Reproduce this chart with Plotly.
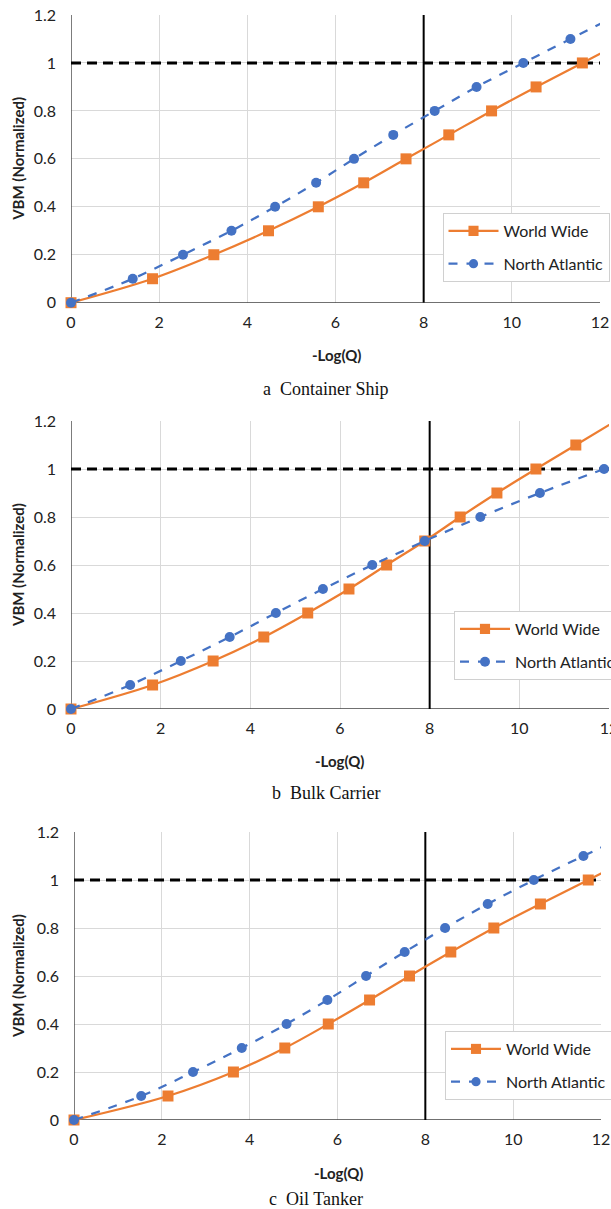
import plotly.graph_objects as go

# ---------------- data ----------------
# Panel a: Container Ship
a_ww_x = [0, 1.85, 3.24, 4.48, 5.61, 6.64, 7.60, 8.57, 9.54, 10.55, 11.60, 12.65]
a_ww_y = [0, 0.1, 0.2, 0.3, 0.4, 0.5, 0.6, 0.7, 0.8, 0.9, 1.0, 1.1]
a_na_x = [0, 1.40, 2.54, 3.64, 4.63, 5.56, 6.42, 7.31, 8.25, 9.20, 10.26, 11.33, 12.40]
a_na_y = [0, 0.1, 0.2, 0.3, 0.4, 0.5, 0.6, 0.7, 0.8, 0.9, 1.0, 1.1, 1.2]
# Panel b: Bulk Carrier
b_ww_x = [0, 1.82, 3.17, 4.30, 5.28, 6.20, 7.04, 7.89, 8.68, 9.50, 10.37, 11.26, 12.15]
b_ww_y = [0, 0.1, 0.2, 0.3, 0.4, 0.5, 0.6, 0.7, 0.8, 0.9, 1.0, 1.1, 1.2]
b_na_x = [0, 1.32, 2.45, 3.54, 4.57, 5.62, 6.72, 7.89, 9.13, 10.46, 11.89]
b_na_y = [0, 0.1, 0.2, 0.3, 0.4, 0.5, 0.6, 0.7, 0.8, 0.9, 1.0]
# Panel c: Oil Tanker
c_ww_x = [0, 2.14, 3.63, 4.80, 5.79, 6.73, 7.64, 8.58, 9.56, 10.62, 11.71, 12.80]
c_ww_y = [0, 0.1, 0.2, 0.3, 0.4, 0.5, 0.6, 0.7, 0.8, 0.9, 1.0, 1.1]
c_na_x = [0, 1.53, 2.71, 3.82, 4.84, 5.77, 6.65, 7.53, 8.45, 9.42, 10.47, 11.60, 12.75]
c_na_y = [0, 0.1, 0.2, 0.3, 0.4, 0.5, 0.6, 0.7, 0.8, 0.9, 1.0, 1.1, 1.2]

series_names = ["World Wide", "North Atlantic"]
captions = ["a  Container Ship", "b  Bulk Carrier", "c  Oil Tanker"]
x_title = "-Log(Q)"
y_title = "VBM (Normalized)"
x_ticks = [0, 2, 4, 6, 8, 10, 12]
y_ticks = [0, 0.2, 0.4, 0.6, 0.8, 1.0, 1.2]
limit_x = 8
limit_y = 1.0

# ---------------- layout helpers ----------------
W, H = 611, 1209
def px(x):
    return x / W
def py(y):
    return 1 - y / H

ORANGE = "#ED7D31"
BLUE = "#4472C4"
FONT = "Lato"
XMAX = 12

panels = [
    dict(ww=(a_ww_x, a_ww_y), na=(a_na_x, a_na_y), left=71, right=600, top=15, bottom=302.7,
         leg=(442.5, 213), xt=(336, 354.7), cap=(325, 389)),
    dict(ww=(b_ww_x, b_ww_y), na=(b_na_x, b_na_y), left=71, right=609, top=421, bottom=709,
         leg=(454, 611), xt=(339, 761), cap=(326, 793)),
    dict(ww=(c_ww_x, c_ww_y), na=(c_na_x, c_na_y), left=74, right=601, top=832, bottom=1120,
         leg=(445, 1031), xt=(338, 1173), cap=(316, 1199)),
]

fig = go.Figure()
annotations = []
shapes = []
layout_axes = {}

for i, p in enumerate(panels):
    n = "" if i == 0 else str(i + 1)
    xa, ya = "x" + n, "y" + n
    leg = "legend" + n
    ww_x, ww_y = p["ww"]
    na_x, na_y = p["na"]
    fig.add_trace(go.Scatter(
        x=ww_x, y=ww_y, name=series_names[0], xaxis=xa, yaxis=ya, legend=leg,
        mode="lines+markers", line=dict(color=ORANGE, width=2.25, shape="spline"),
        marker=dict(symbol="square", color=ORANGE, opacity=1, line=dict(width=0),
                    size=[11 if v <= XMAX else 0 for v in ww_x]),
        cliponaxis=False, legendgroup="ww" + n))
    fig.add_trace(go.Scatter(
        x=na_x, y=na_y, name=series_names[1], xaxis=xa, yaxis=ya, legend=leg,
        mode="lines+markers", line=dict(color=BLUE, width=2.25, dash="dash", shape="spline"),
        marker=dict(symbol="circle", color=BLUE, opacity=1, line=dict(width=0),
                    size=[10 if v <= XMAX else 0 for v in na_x]),
        cliponaxis=False, legendgroup="na" + n))

    layout_axes["xaxis" + n] = dict(
        domain=[px(p["left"]), px(p["right"])], range=[0, XMAX], anchor=ya,
        tickvals=x_ticks, showgrid=True, gridcolor="#d9d9d9", gridwidth=1,
        zeroline=False, showline=False, ticks="", ticklabelstandoff=8, automargin=False,
        ticklabeloverflow="allow",
        tickfont=dict(family=FONT, size=16, color="#222"), fixedrange=True)
    layout_axes["yaxis" + n] = dict(
        domain=[py(p["bottom"]), py(p["top"])], range=[0, 1.2], anchor=xa,
        tickvals=y_ticks, ticktext=[("%g" % v) for v in y_ticks],
        showgrid=True, gridcolor="#d9d9d9", gridwidth=1, automargin=False,
        zeroline=False, showline=False, ticks="", ticklabelstandoff=14,
        tickfont=dict(family=FONT, size=16, color="#222"), fixedrange=True)
    layout_axes[leg] = dict(
        x=px(p["leg"][0]), y=py(p["leg"][1]), xanchor="left", yanchor="top",
        bgcolor="white", bordercolor="#d0d0d0", borderwidth=1,
        font=dict(family=FONT, size=16, color="#222"),
        tracegroupgap=9, traceorder="grouped", itemwidth=50)

    # axis lines (x=0 and y=0)
    shapes.append(dict(type="line", xref=xa, yref=ya, x0=0, x1=XMAX, y0=0, y1=0,
                       line=dict(color="#404040", width=1.5), layer="between"))
    shapes.append(dict(type="line", xref=xa, yref=ya, x0=0, x1=0, y0=0, y1=1.2,
                       line=dict(color="#505050", width=1.5), layer="between"))
    # reference lines
    shapes.append(dict(type="line", xref=xa, yref=ya, x0=limit_x, x1=limit_x, y0=0, y1=1.2,
                       line=dict(color="black", width=2), layer="between"))
    shapes.append(dict(type="line", xref=xa, yref=ya, x0=0, x1=XMAX, y0=limit_y, y1=limit_y,
                       line=dict(color="black", width=3, dash="10px,6px"), layer="between"))

    annotations.append(dict(text="<b>%s</b>" % x_title, xref="paper", yref="paper",
                            x=px(p["xt"][0]), y=py(p["xt"][1]), xanchor="center", yanchor="middle",
                            showarrow=False, font=dict(family=FONT, size=15, color="#222")))
    annotations.append(dict(text="<b>%s</b>" % y_title, xref="paper", yref="paper",
                            x=px(18), y=py((p["top"] + p["bottom"]) / 2), xanchor="center",
                            yanchor="middle", textangle=-90, showarrow=False,
                            font=dict(family=FONT, size=15, color="#222")))
    annotations.append(dict(text=captions[i], xref="paper", yref="paper",
                            x=px(p["cap"][0]), y=py(p["cap"][1]), xanchor="center", yanchor="middle",
                            showarrow=False, font=dict(family="Liberation Serif", size=18, color="#111")))

fig.update_layout(
    width=W, height=H, margin=dict(l=0, r=0, t=0, b=0, autoexpand=False),
    paper_bgcolor="white", plot_bgcolor="white", hovermode=False,
    showlegend=True, annotations=annotations, shapes=shapes, **layout_axes)

fig.write_html("out.html", config={"displayModeBar": False, "staticPlot": True},
               post_script="document.body.style.margin='0px';document.body.style.overflow='hidden';")
